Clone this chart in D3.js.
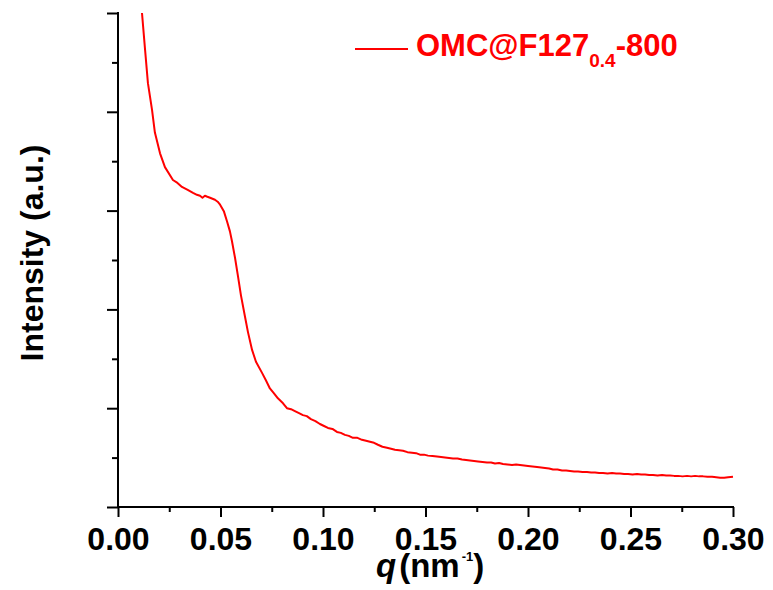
<!DOCTYPE html>
<html><head><meta charset="utf-8">
<script src="https://cdn.jsdelivr.net/npm/d3@7"></script>
<style>
body{margin:0;background:#fff;}
text{font-family:"Liberation Sans",Arial,sans-serif;font-weight:bold;}
</style></head>
<body><svg id="c" width="773" height="590"></svg>
<script>
// q (nm^-1)
const qValues = [0.0117,0.0132,0.0146,0.0166,0.0180,0.0205,0.0229,0.0268,0.0290,0.0312,0.0340,0.0366,0.0385,0.0400,0.0412,0.0424,0.0436,0.0449,0.0461,0.0473,0.0486,0.0498,0.0517,0.0532,0.0546,0.0556,0.0571,0.0585,0.0600,0.0620,0.0634,0.0654,0.0673,0.0702,0.0722,0.0741,0.0761,0.0780,0.0805,
0.0824,0.0844,0.0863,0.0883,0.0902,0.0921,0.0941,0.0963,0.0985,0.1005,0.1024,0.1046,0.1068,0.1087,0.1107,0.1126,0.1146,0.1168,0.1190,0.1210,0.1229,0.1249,0.1268,0.1290,0.1312,0.1332,0.1351,0.1371,0.1390,0.1412,0.1434,0.1454,0.1473,0.1493,0.1512,0.1534,0.1556,0.1576,0.1595,0.1615,0.1634,0.1656,0.1678,0.1698,0.1717,0.1737,0.1756,0.1778,0.1800,0.1820,0.1839,0.1859,0.1878,0.1900,0.1922,0.1942,0.1961,0.1981,0.2000,0.2022,0.2044,0.2064,0.2083,0.2103,0.2122,0.2144,0.2166,0.2186,0.2205,0.2225,0.2244,0.2266,0.2288,0.2308,0.2327,0.2347,0.2366,0.2388,0.2410,0.2430,0.2449,0.2469,0.2488,0.2510,0.2532,0.2552,0.2571,0.2591,0.2610,0.2632,0.2654,0.2674,0.2693,0.2713,0.2732,0.2754,0.2776,0.2796,0.2815,0.2835,0.2854,0.2876,0.2898,0.2918,0.2937,0.2957,0.2976,0.3000];
// Intensity (a.u.)
const intensity = [5.00,4.63,4.29,4.02,3.79,3.58,3.44,3.31,3.28,3.24,3.21,3.18,3.16,3.15,3.13,3.15,3.14,3.13,3.12,3.11,3.09,3.06,2.99,2.89,2.79,2.69,2.52,2.34,2.14,1.92,1.77,1.59,1.47,1.36,1.28,1.20,1.15,1.10,1.05,
1.00,0.99,0.97,0.95,0.93,0.92,0.89,0.87,0.84,0.82,0.80,0.79,0.76,0.75,0.73,0.72,0.70,0.70,0.68,0.67,0.66,0.65,0.63,0.61,0.60,0.59,0.58,0.575,0.57,0.555,0.55,0.545,0.53,0.53,0.52,0.515,0.51,0.505,0.50,0.495,0.49,0.49,0.48,0.475,0.47,0.465,0.46,0.455,0.45,0.45,0.44,0.445,0.435,0.43,0.425,0.43,0.425,0.42,0.415,0.41,0.405,0.40,0.395,0.39,0.38,0.38,0.37,0.37,0.365,0.36,0.36,0.355,0.355,0.35,0.35,0.345,0.345,0.34,0.345,0.34,0.34,0.335,0.335,0.33,0.335,0.33,0.33,0.325,0.325,0.32,0.325,0.32,0.32,0.315,0.315,0.31,0.315,0.31,0.315,0.31,0.31,0.305,0.305,0.30,0.295,0.295,0.30,0.305];
const xTicks = [0,0.05,0.10,0.15,0.20,0.25,0.30];
const xTickLabels = ["0.00","0.05","0.10","0.15","0.20","0.25","0.30"];
const xMinor = [0.025,0.075,0.125,0.175,0.225,0.275];
const yTicks = [0,1,2,3,4,5];
const yMinor = [0.5,1.5,2.5,3.5,4.5];
const seriesName = "OMC@F127";
const seriesSub = "0.4";
const seriesSuffix = "-800";

const svg = d3.select("#c");
const x = d3.scaleLinear().domain([0,0.3]).range([118,733]);
const y = d3.scaleLinear().domain([0,5]).range([507,13]);

svg.append("defs").append("clipPath").attr("id","clip")
  .append("rect").attr("x",118).attr("y",13).attr("width",618).attr("height",494);

const data = qValues.map((q,i)=>({q, v:intensity[i]})).filter(d=>d.v!==undefined);
svg.append("path").datum(data)
  .attr("clip-path","url(#clip)")
  .attr("fill","none").attr("stroke","#ff0000").attr("stroke-width",2)
  .attr("stroke-linejoin","round")
  .attr("d", d3.line().x(d=>x(d.q)).y(d=>y(d.v)));

// x axis
const gx = svg.append("g").attr("transform","translate(0,507)");
gx.call(d3.axisBottom(x).tickValues(xTicks).tickSize(10).tickFormat((d,i)=>xTickLabels[i]));
gx.append("g").call(d3.axisBottom(x).tickValues(xMinor).tickSize(5).tickFormat(""));
gx.selectAll(".domain").attr("stroke","#000").attr("stroke-width",2).attr("d","M117,0H734");
gx.selectAll(".tick line").attr("stroke","#000").attr("stroke-width",2);
gx.selectAll(".tick text").attr("fill","#000").attr("font-size",32).attr("dy",0).attr("y",43)
  .style("font-family","'Liberation Sans',Arial,sans-serif").style("font-weight","bold");
gx.selectAll("g g .domain").remove();

// y axis
const gy = svg.append("g").attr("transform","translate(118,0)");
gy.call(d3.axisLeft(y).tickValues(yTicks).tickSize(11).tickFormat(""));
gy.append("g").call(d3.axisLeft(y).tickValues(yMinor).tickSize(6).tickFormat(""));
gy.selectAll(".domain").attr("stroke","#000").attr("stroke-width",2).attr("d","M0,12V508");
gy.selectAll("g g .domain").remove();
gy.selectAll(".tick line").attr("stroke","#000").attr("stroke-width",2);

// y label
svg.append("text").attr("transform","translate(43,253) rotate(-90)")
  .attr("text-anchor","middle").attr("font-size",32).attr("fill","#000")
  .text("Intensity (a.u.)");

// x label
const xl = svg.append("text").attr("x",376).attr("y",577)
  .attr("font-size",33).attr("fill","#000");
xl.append("tspan").attr("font-style","italic").text("q");
xl.append("tspan").attr("dx",3).text("(nm");
xl.append("tspan").attr("font-size",13).attr("dx",2).attr("dy",-16).text("-1");
xl.append("tspan").attr("dy",16).text(")");

// legend
svg.append("line").attr("x1",355).attr("x2",408).attr("y1",49).attr("y2",49)
  .attr("stroke","#ff0000").attr("stroke-width",2);
const lt = svg.append("text").attr("x",416).attr("y",56).attr("font-size",31).attr("fill","#ff0000");
lt.append("tspan").text(seriesName);
lt.append("tspan").attr("font-size",19).attr("dy",11).text(seriesSub);
lt.append("tspan").attr("dy",-11).text(seriesSuffix);
</script></body></html>
